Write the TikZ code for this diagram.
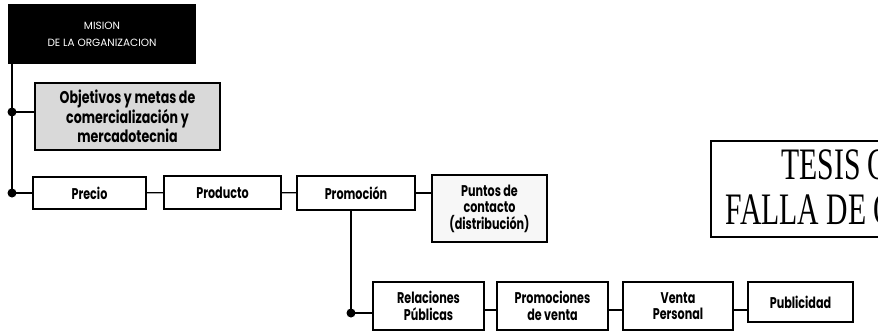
\documentclass[tikz,border=0pt]{standalone}
\usepackage{fontspec}
\newfontfamily\bfont{Poppins}[FakeStretch=0.72]
\newfontfamily\ofont{Poppins}[FakeStretch=0.74]
\newfontfamily\mfont{Poppins}
\newfontfamily\stampfont{Liberation Serif}[FakeStretch=0.66]
\begin{document}
\begin{tikzpicture}[x=1pt,y=-1pt,
  box/.style={draw, line width=1.4pt, inner sep=0pt, align=center,
    font=\bfont\bfseries\fontsize{15.5}{16.5}\selectfont},
  wire/.style={line width=1.4pt},
  dot/.style={fill=black}]
\useasboundingbox (0,0) rectangle (878,332);
\clip (0,0) rectangle (878,332);
% nodes
\node[box, fill=black, text=white, minimum width=186pt, minimum height=58pt,
  font=\mfont\fontsize{10.5}{17}\selectfont] (mision) at (102,34) {MISION\\DE LA ORGANIZACION};
\node[box, fill=gray!30, minimum width=185pt, minimum height=67pt,
  font=\ofont\bfseries\fontsize{17}{16.5}\selectfont] (obj) at (127.5,116.5)
  {Objetivos y metas de\\comercialización y\\mercadotecnia};
\node[box, minimum width=113pt, minimum height=32pt] (precio) at (89.5,193) {Precio};
\node[box, minimum width=117pt, minimum height=33pt] (producto) at (222.5,192.5) {Producto};
\node[box, minimum width=118pt, minimum height=34pt] (promo) at (356,193) {Promoción};
\node[box, fill=gray!6, minimum width=115pt, minimum height=67pt] (puntos) at (489.5,208.5)
  {Puntos de\\contacto\\(distribución)};
\node[box, minimum width=111pt, minimum height=48pt] (rel) at (428.5,306) {Relaciones\\Públicas};
\node[box, minimum width=111pt, minimum height=48pt] (promv) at (552.5,306) {Promociones\\de venta};
\node[box, minimum width=110pt, minimum height=48pt] (venta) at (678,306) {Venta\\Personal};
\node[box, minimum width=105pt, minimum height=40pt] (publ) at (800.5,302) {Publicidad};
% stamp
\node[draw, line width=1.2pt, minimum width=290pt, minimum height=96pt, inner sep=0pt] (stamp) at (856,189) {};
\node[align=center, inner sep=0pt, font=\stampfont\fontsize{45}{45}\selectfont] (stamptext) at (856,187)
  {TESIS CON\\FALLA DE ORIGEN};
% junctions
\coordinate (j1) at (12,112);
\coordinate (j2) at (12,193);
\coordinate (j3) at (351,313);
\coordinate (yb) at (0,310);
% connectors
\draw[wire] (mision.south -| j1) -- (j2);
\draw[wire] (j1) -- (obj.west |- j1);
\draw[wire] (j2) -- (precio.west |- j2);
\draw[wire] (precio) -- (producto);
\draw[wire] (producto) -- (promo);
\draw[wire] (promo) -- (promo -| puntos.west);
\draw[wire] (promo.south -| j3) -- (j3);
\draw[wire] (j3) -- (rel.west |- j3);
\draw[wire] (rel.east |- yb) -- (promv.west |- yb);
\draw[wire] (promv.east |- yb) -- (venta.west |- yb);
\draw[wire] (venta.east |- yb) -- (publ.west |- yb);
\fill[dot] (j1) circle (4.5);
\fill[dot] (j2) circle (4.5);
\fill[dot] (j3) circle (4.5);
\end{tikzpicture}
\end{document}
